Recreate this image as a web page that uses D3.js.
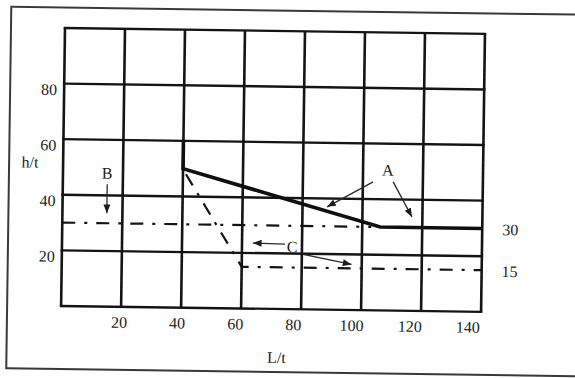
<!DOCTYPE html>
<html>
<head>
<meta charset="utf-8">
<script src="https://cdn.jsdelivr.net/npm/d3@7"></script>
<style>
  html, body { margin: 0; padding: 0; background: #fff; }
  svg { display: block; }
  text { font-family: "Liberation Serif", "Times New Roman", serif; fill: #1c1c1c; }
</style>
</head>
<body>
<svg id="chart" width="575" height="378"></svg>
<script>
// Slenderness limits: h/t against L/t
const xTicks = [20, 40, 60, 80, 100, 120, 140];
const yTicks = [20, 40, 60, 80];
const xGrid = [0, 20, 40, 60, 80, 100, 120, 140];
const yGrid = [0, 20, 40, 60, 80, 100];

// Curve A (solid), B and C (chain lines) as [L/t, h/t]
const curveA = [[40, 60], [40, 50], [106, 30], [140, 30]];
const curveB = [[0, 30], [103, 30]];
const curveC = [[41, 48], [60, 15], [140, 15]];

// End-of-line values printed at the right
const endLabels = [{ text: "30", value: 30 }, { text: "15", value: 15 }];

// Annotation letters and their leader arrows, in data units
const letters = [
  { text: "B", x: 14.7, y: 48 },
  { text: "A", x: 108.3, y: 50.5 },
  { text: "C", x: 76.7, y: 22.4 }
];
const leaders = [
  { from: [14.8, 44], to: [14.8, 33.6] },
  { from: [103.4, 46.2], to: [88.2, 37] },
  { from: [110.1, 46.3], to: [116.5, 33.8] },
  { from: [74.3, 23.4], to: [63.6, 23.6] },
  { from: [80.4, 19.8], to: [96.6, 16.4] }
];

const svg = d3.select("#chart");
const plotLeft = 65, plotTop = 28, plotWidth = 420, plotHeight = 278;

const x = d3.scaleLinear().domain([0, 140]).range([plotLeft, plotLeft + plotWidth]);
const y = d3.scaleLinear().domain([0, 100]).range([plotTop + plotHeight, plotTop]);
// printed L/t numbers sit a little to the left of their grid lines
const xLabel = d3.scaleLinear().domain([0, 140]).range([plotLeft, plotLeft + 407]);

// whole sheet sits slightly askew
const g = svg.append("g").attr("transform", `rotate(0.8, ${plotLeft}, ${plotTop})`);

const defs = svg.append("defs");
defs.append("marker")
  .attr("id", "head")
  .attr("viewBox", "0 0 10 8")
  .attr("refX", 10).attr("refY", 4)
  .attr("markerWidth", 9).attr("markerHeight", 7)
  .attr("markerUnits", "userSpaceOnUse")
  .attr("orient", "auto")
  .append("path").attr("d", "M0,0L10,4L0,8Z").attr("fill", "#1c1c1c");

// sheet frame
g.append("rect")
  .attr("x", 11).attr("y", 7.5)
  .attr("width", 620).attr("height", 361.5)
  .attr("fill", "none").attr("stroke", "#3a3a3a").attr("stroke-width", 2);

// grid
g.append("g").selectAll("line").data(xGrid).join("line")
  .attr("x1", d => x(d)).attr("x2", d => x(d))
  .attr("y1", y(0)).attr("y2", y(100))
  .attr("stroke", "#141414").attr("stroke-width", 2.6);
g.append("g").selectAll("line").data(yGrid).join("line")
  .attr("x1", x(0) - 1.3).attr("x2", x(140) + 1.3)
  .attr("y1", d => y(d)).attr("y2", d => y(d))
  .attr("stroke", "#141414").attr("stroke-width", 2.4);

// tick labels
g.append("g").selectAll("text").data(yTicks).join("text")
  .attr("x", plotLeft - 7).attr("y", d => y(d) + 6)
  .attr("text-anchor", "end").attr("dominant-baseline", "central")
  .attr("font-size", 16).text(d => d);
g.append("g").selectAll("text").data(xTicks).join("text")
  .attr("x", d => xLabel(d)).attr("y", y(0) + 21)
  .attr("text-anchor", "middle")
  .attr("font-size", 16).text(d => d);

// axis titles
g.append("text").attr("x", 32).attr("y", 168)
  .attr("text-anchor", "middle").attr("font-size", 16).text("h/t");
g.append("text").attr("x", 281).attr("y", 360)
  .attr("text-anchor", "middle").attr("font-size", 16).text("L/t");

const line = d3.line().x(d => x(d[0])).y(d => y(d[1]));

// B and C chain lines
g.append("path").attr("d", line(curveB))
  .attr("fill", "none").attr("stroke", "#141414").attr("stroke-width", 2.2)
  .attr("stroke-dasharray", "13,9,3,9");
g.append("path").attr("d", line(curveC))
  .attr("fill", "none").attr("stroke", "#141414").attr("stroke-width", 2.2)
  .attr("stroke-dasharray", "13,9,3,9");

// A solid limit line
g.append("path").attr("d", line(curveA))
  .attr("fill", "none").attr("stroke", "#0f0f0f").attr("stroke-width", 3.6)
  .attr("stroke-linejoin", "miter");

// values at the right of B and C
g.append("g").selectAll("text").data(endLabels).join("text")
  .attr("x", x(140) + 20).attr("y", d => y(d.value) + 1)
  .attr("dominant-baseline", "central")
  .attr("font-size", 16).text(d => d.text);

// leader arrows
g.append("g").selectAll("line").data(leaders).join("line")
  .attr("x1", d => x(d.from[0])).attr("y1", d => y(d.from[1]))
  .attr("x2", d => x(d.to[0])).attr("y2", d => y(d.to[1]))
  .attr("stroke", "#2a2a2a").attr("stroke-width", 1.3)
  .attr("marker-end", "url(#head)");

// letters
g.append("g").selectAll("text").data(letters).join("text")
  .attr("x", d => x(d.x)).attr("y", d => y(d.y))
  .attr("text-anchor", "middle").attr("dominant-baseline", "central")
  .attr("font-size", 16).text(d => d.text);
</script>
</body>
</html>
